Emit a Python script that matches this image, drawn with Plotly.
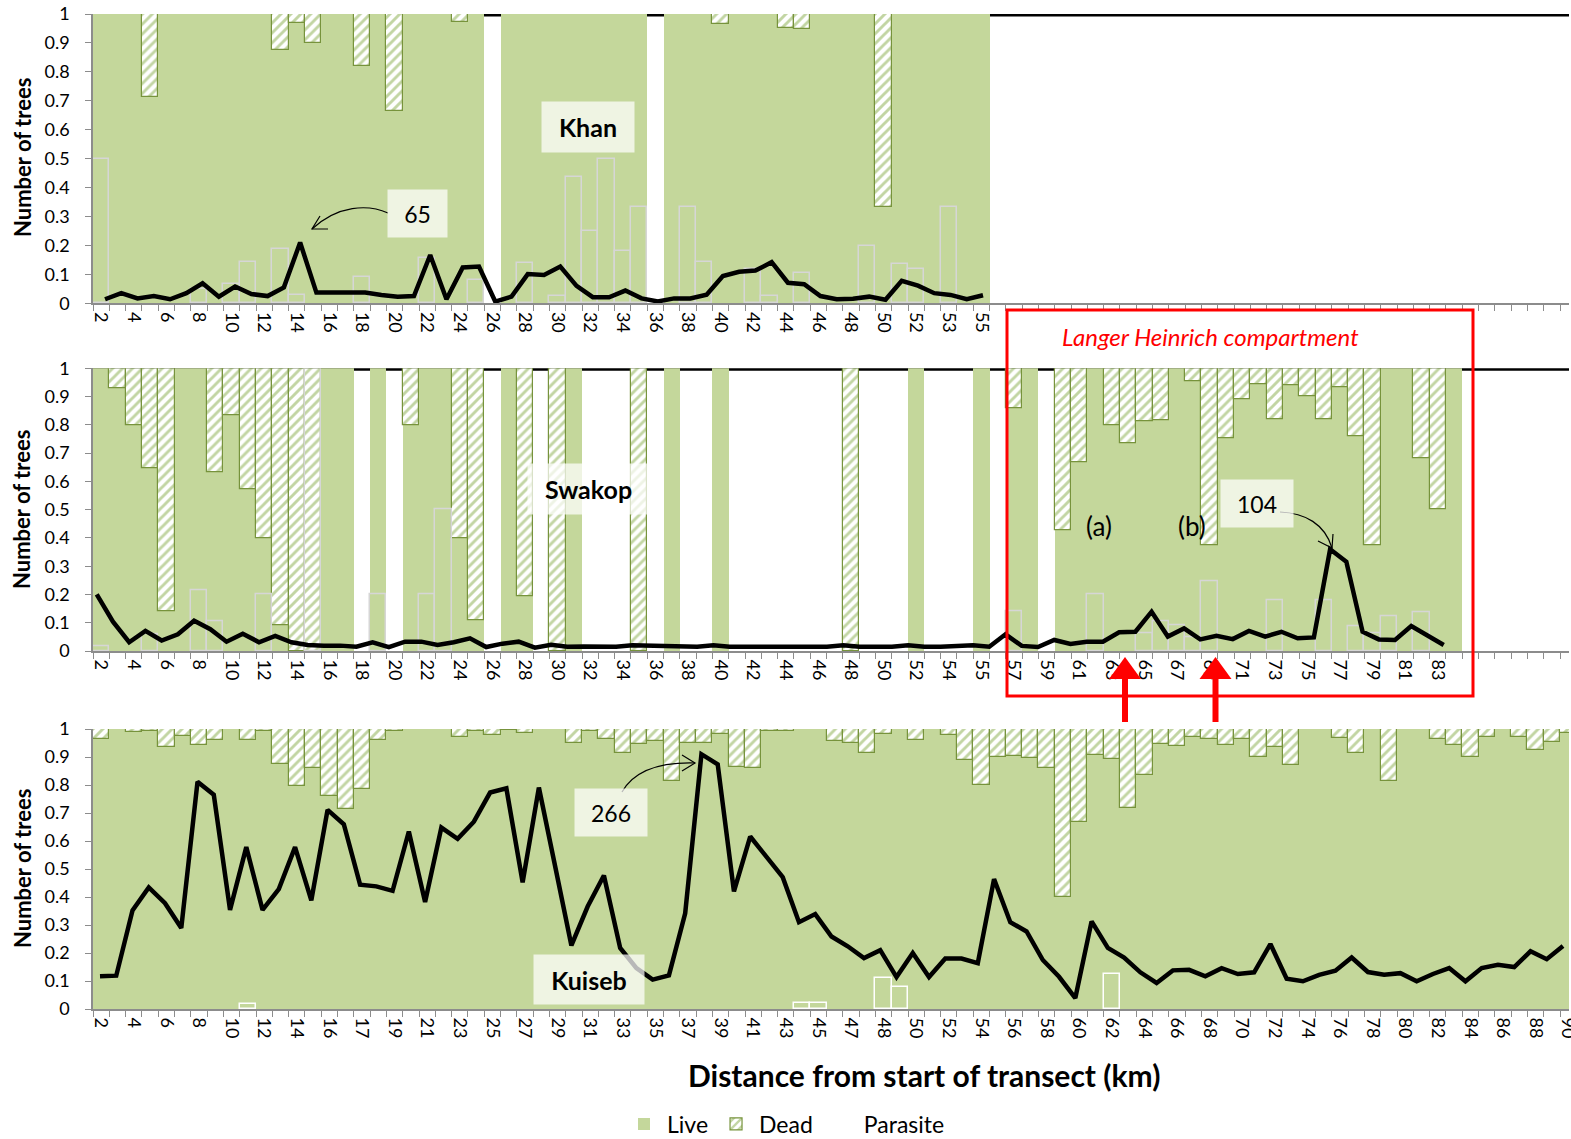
import plotly.graph_objects as go

# ---------------- data ----------------
# km labels per category (the odd "extra" category only sits under a hidden label)
khan_km = ("2 3 4 5 6 7 8 9 10 11 12 13 14 15 16 17 18 19 20 21 22 23 24 25 26 27 28 29 30 31 "
           "32 33 34 35 36 37 38 39 40 41 42 43 44 45 46 47 48 49 50 51 52 52 53 54 55").split()
swakop_km = ("2 3 4 5 6 7 8 9 10 11 12 13 14 15 16 17 18 19 20 21 22 23 24 25 26 27 28 29 30 31 "
             "32 33 34 35 36 37 38 39 40 41 42 43 44 45 46 47 48 49 50 51 52 53 54 54 55 56 57 58 "
             "59 60 61 62 63 64 65 66 67 68 69 70 71 72 73 74 75 76 77 78 79 80 81 82 83 84").split()
kuiseb_km = ("2 3 4 5 6 7 8 9 10 11 12 13 14 15 16 16 17 18 19 20 21 22 23 24 25 26 27 28 29 30 31 "
             "32 33 34 35 36 37 38 39 40 41 42 43 44 45 46 47 47 48 49 50 51 52 53 54 55 56 57 58 59 "
             "60 61 62 63 64 65 66 67 68 69 70 71 72 73 74 75 76 77 78 79 80 81 82 83 84 85 86 87 88 89 90").split()

# Khan
khan_live = [1, 1, 1, 0.714, 1, 1, 1, 1, 1, 1,
             1, 0.876, 0.968, 0.9, 1, 1, 0.82, 1, 0.666, 1,
             1, 1, 0.971, 1, 0, 1, 1, 1, 1, 1,
             1, 1, 1, 1, 0, 1, 1, 1, 0.964, 1,
             1, 1, 0.95, 0.947, 1, 1, 1, 1, 0.332, 1,
             1, 1, 1, 1, 1]
khan_dead = [0, 0, 0, 0.286, 0, 0, 0, 0, 0, 0,
             0, 0.124, 0.032, 0.1, 0, 0, 0.18, 0, 0.334, 0,
             0, 0, 0.029, 0, 0, 0, 0, 0, 0, 0,
             0, 0, 0, 0, 0, 0, 0, 0, 0.036, 0,
             0, 0, 0.05, 0.053, 0, 0, 0, 0, 0.668, 0,
             0, 0, 0, 0, 0]
khan_parasite = [0.5, 0, 0, 0, 0, 0, 0.05, 0, 0.066, 0.142,
                 0, 0.188, 0.03, 0, 0, 0, 0.09, 0, 0, 0,
                 0.158, 0, 0, 0.08, 0, 0, 0.138, 0, 0.025, 0.435,
                 0.25, 0.5, 0.18, 0.332, 0, 0, 0.332, 0.142, 0, 0,
                 0.12, 0.025, 0, 0.104, 0, 0, 0, 0.198, 0, 0.135,
                 0.118, 0, 0.332, 0, 0]
khan_trees = [0.014, 0.035, 0.017, 0.025, 0.014, 0.035, 0.069, 0.023, 0.058, 0.032,
              0.025, 0.055, 0.21, 0.037, 0.037, 0.037, 0.037, 0.029, 0.023, 0.025,
              0.167, 0.014, 0.124, 0.127, 0.006, 0.023, 0.101, 0.098, 0.127, 0.06,
              0.021, 0.021, 0.044, 0.017, 0.006, 0.017, 0.017, 0.03, 0.094, 0.109,
              0.113, 0.142, 0.071, 0.066, 0.025, 0.014, 0.016, 0.023, 0.012, 0.078,
              0.061, 0.035, 0.029, 0.014, 0.028]

# Swakop
swakop_live = [1, 0.929, 0.8, 0.646, 0.142, 1, 1, 0.632, 0.835, 0.572,
               0.4, 0.09, 0, 0, 1, 1, 0, 1, 0, 0.8,
               1, 1, 0.4, 0.11, 0, 1, 0.193, 0, 0, 1,
               0, 0, 0, 0, 0, 1, 0, 0, 1, 0,
               0, 0, 0, 0, 0, 0, 0, 0, 0, 0,
               1, 0, 0, 0, 1, 0, 0.858, 1, 0, 0.428,
               0.667, 1, 0.8, 0.735, 0.814, 0.817, 1, 0.953, 0.375, 0.752,
               0.892, 0.943, 0.821, 0.941, 0.902, 0.821, 0.933, 0.761, 0.375, 1,
               1, 0.682, 0.5, 1]
swakop_dead = [0, 0.071, 0.2, 0.354, 0.858, 0, 0, 0.368, 0.165, 0.428,
               0.6, 0.91, 1, 1, 0, 0, 0, 0, 0, 0.2,
               0, 0, 0.6, 0.89, 0, 0, 0.807, 0, 1, 0,
               0, 0, 0, 1, 0, 0, 0, 0, 0, 0,
               0, 0, 0, 0, 0, 0, 1, 0, 0, 0,
               0, 0, 0, 0, 0, 0, 0.142, 0, 0, 0.572,
               0.333, 0, 0.2, 0.265, 0.186, 0.183, 0, 0.047, 0.625, 0.248,
               0.108, 0.057, 0.179, 0.059, 0.098, 0.179, 0.067, 0.239, 0.625, 0,
               0, 0.318, 0.5, 0]
swakop_parasite = [0.018, 0, 0, 0.06, 0, 0, 0.213, 0.106, 0, 0,
                   0.2, 0, 0, 1, 0, 0, 0, 0.2, 0, 0,
                   0.2, 0.5, 0, 0, 0, 0, 0, 0, 0, 0,
                   0, 0, 0, 0, 0, 0, 0, 0, 0, 0,
                   0, 0, 0, 0, 0, 0, 0, 0, 0, 0,
                   0, 0, 0, 0, 0, 0, 0.142, 0, 0, 0,
                   0, 0.2, 0, 0, 0.0625, 0.104, 0.09, 0.047, 0.248, 0,
                   0, 0, 0.18, 0, 0, 0.18, 0, 0.086, 0.0625, 0.121,
                   0, 0.137, 0, 0]
swakop_trees = [0.2, 0.104, 0.031, 0.071, 0.037, 0.059, 0.107, 0.077, 0.033, 0.061,
                0.031, 0.053, 0.031, 0.021, 0.019, 0.019, 0.015, 0.031, 0.014, 0.033,
                0.033, 0.021, 0.031, 0.045, 0.014, 0.026, 0.033, 0.012, 0.022, 0.015,
                0.016, 0.015, 0.015, 0.02, 0.018, 0.02, 0.015, 0.015, 0.02, 0.015,
                0.015, 0.015, 0.015, 0.015, 0.015, 0.015, 0.02, 0.015, 0.015, 0.015,
                0.02, 0.015, 0.015, 0.016, 0.02, 0.015, 0.059, 0.018, 0.014, 0.039,
                0.025, 0.033, 0.033, 0.066, 0.068, 0.139, 0.051, 0.08, 0.041, 0.054,
                0.042, 0.071, 0.051, 0.068, 0.045, 0.048, 0.36, 0.316, 0.068, 0.041,
                0.039, 0.088, 0.054, 0.021]

# Kuiseb
kuiseb_live = [0.964, 1, 0.99, 0.993, 0.935, 0.976, 0.943, 0.96, 1, 0.96,
               0.994, 0.875, 0.797, 0.862, 0.759, 0.716, 0.785, 0.96, 0.993, 1,
               1, 1, 0.97, 0.993, 0.979, 0.996, 0.984, 1, 1, 0.949,
               0.992, 0.964, 0.913, 0.945, 0.957, 0.816, 0.949, 0.949, 0.982, 0.866,
               0.86, 0.994, 0.994, 1, 1, 0.957, 0.949, 0.913, 0.982, 1,
               0.96, 1, 0.979, 0.889, 0.8, 0.901, 0.905, 0.895, 0.862, 0.4,
               0.667, 0.907, 0.893, 0.717, 0.834, 0.945, 0.939, 0.97, 0.964, 0.943,
               0.964, 0.901, 0.935, 0.872, 1, 1, 0.969, 0.913, 1, 0.816,
               1, 1, 0.964, 0.943, 0.901, 0.97, 1, 0.97, 0.925, 0.952,
               0.985]
kuiseb_dead = [0.036, 0, 0.01, 0.007, 0.065, 0.024, 0.057, 0.04, 0, 0.04,
               0.006, 0.125, 0.203, 0.138, 0.241, 0.284, 0.215, 0.04, 0.007, 0,
               0, 0, 0.03, 0.007, 0.021, 0.004, 0.016, 0, 0, 0.051,
               0.008, 0.036, 0.087, 0.055, 0.043, 0.184, 0.051, 0.051, 0.018, 0.134,
               0.14, 0.006, 0.006, 0, 0, 0.043, 0.051, 0.087, 0.018, 0,
               0.04, 0, 0.021, 0.111, 0.2, 0.099, 0.095, 0.105, 0.138, 0.6,
               0.333, 0.093, 0.107, 0.283, 0.166, 0.055, 0.061, 0.03, 0.036, 0.057,
               0.036, 0.099, 0.065, 0.128, 0, 0, 0.031, 0.087, 0, 0.184,
               0, 0, 0.036, 0.057, 0.099, 0.03, 0, 0.03, 0.075, 0.048,
               0.015]
kuiseb_parasite = [0, 0, 0, 0, 0, 0, 0, 0, 0, 0.018,
                   0, 0, 0, 0, 0, 0, 0, 0, 0, 0,
                   0, 0, 0, 0, 0, 0, 0, 0, 0, 0,
                   0, 0, 0, 0, 0, 0, 0, 0, 0, 0,
                   0, 0, 0, 0.021, 0.021, 0, 0, 0, 0.11, 0.077,
                   0, 0, 0, 0, 0, 0, 0, 0, 0, 0,
                   0, 0, 0.125, 0, 0, 0, 0, 0, 0, 0,
                   0, 0, 0, 0, 0, 0, 0, 0, 0, 0,
                   0, 0, 0, 0, 0, 0, 0, 0, 0, 0,
                   0]
kuiseb_trees = [0.117, 0.119, 0.352, 0.434, 0.378, 0.289, 0.812, 0.765, 0.354, 0.578,
                0.354, 0.428, 0.578, 0.388, 0.711, 0.66, 0.444, 0.438, 0.422, 0.634,
                0.382, 0.648, 0.608, 0.669, 0.773, 0.788, 0.452, 0.791, 0.51, 0.227,
                0.366, 0.477, 0.218, 0.146, 0.105, 0.12, 0.342, 0.91, 0.874, 0.42,
                0.616, 0.543, 0.471, 0.31, 0.339, 0.259, 0.224, 0.182, 0.21, 0.114,
                0.2, 0.114, 0.18, 0.18, 0.164, 0.464, 0.31, 0.277, 0.175, 0.115,
                0.039, 0.313, 0.218, 0.184, 0.131, 0.093, 0.138, 0.14, 0.117, 0.146,
                0.125, 0.131, 0.232, 0.108, 0.099, 0.122, 0.137, 0.184, 0.132, 0.122,
                0.128, 0.099, 0.125, 0.146, 0.099, 0.146, 0.158, 0.15, 0.206, 0.178,
                0.225]

y_ticks = [0, 0.1, 0.2, 0.3, 0.4, 0.5, 0.6, 0.7, 0.8, 0.9, 1]
y_ticktext = ["0", "0.1", "0.2", "0.3", "0.4", "0.5", "0.6", "0.7", "0.8", "0.9", "1"]

# ---------------- layout helpers ----------------
W, H = 1571, 1139
ML, MR, MT, MB = 93, 2, 14, 130
GREEN = "#c4d79b"
FONT = "Lato"


def fx(p):
    return (p - ML) / (W - ML - MR)


def fy(p):
    return (H - MB - p) / (H - MT - MB)


def nz(vals):
    return [v if v else None for v in vals]


panels = [
    # name, labels, live, dead, parasite, trees, parasite outline, y domain, line axis range
    ("Khan", khan_km, khan_live, khan_dead, khan_parasite, khan_trees, "#d6d6d6",
     [fy(303.3), fy(14)], [-0.74, 90.04]),
    ("Swakop", swakop_km, swakop_live, swakop_dead, swakop_parasite, swakop_trees, "#d6d6d6",
     [fy(651), fy(368.3)], [-0.23, 90.72]),
    ("Kuiseb", kuiseb_km, kuiseb_live, kuiseb_dead, kuiseb_parasite, kuiseb_trees, "white",
     [fy(1009), fy(729)], [-0.43, 90.37]),
]

fig = go.Figure()
layout_axes = {}
shapes = []

for i, (name, km, live, dead, para, trees, pcol, ydom, lrange) in enumerate(panels):
    n = i + 1
    xa = "x" if n == 1 else f"x{n}"
    ya = "y" if n == 1 else f"y{n}"
    xl = f"x{n + 3}"
    idx = list(range(len(km)))
    last = (n == 3)

    fig.add_trace(go.Bar(x=idx, y=nz(live), width=1, name="Live",
                         marker=dict(color=GREEN, line=dict(width=0)),
                         xaxis=xa, yaxis=ya, showlegend=last, legendrank=1))
    fig.add_trace(go.Bar(x=idx, y=nz(dead), base=live, width=1, name="Dead",
                         marker=dict(color="white", line=dict(color="#77933c", width=1.2),
                                     pattern=dict(shape="/", fgcolor="#86ab48", bgcolor="white",
                                                  size=7, solidity=0.42)),
                         xaxis=xa, yaxis=ya, showlegend=last, legendrank=2))
    fig.add_trace(go.Bar(x=idx, y=nz(para), width=1, name="Parasite",
                         marker=dict(color="rgba(0,0,0,0)", line=dict(color=pcol, width=1.5)),
                         xaxis=xa, yaxis=ya, showlegend=last, legendrank=3))
    fig.add_trace(go.Scatter(x=idx, y=trees, mode="lines", line=dict(color="black", width=4.5),
                             xaxis=xl, yaxis=ya, showlegend=False, hoverinfo="skip"))

    tv = list(range(0, len(km), 2))
    layout_axes["xaxis" if n == 1 else f"xaxis{n}"] = dict(
        domain=[0, 1], anchor=ya, range=[-0.5, 90.05], automargin=False,
        tickmode="array", tickvals=tv, ticktext=[km[j] for j in tv], tickangle=90,
        ticks="", showline=True, linecolor="#8c8c8c", linewidth=2,
        showgrid=False, zeroline=False, tickfont=dict(size=18), ticklabelstandoff=3,
        ticklabeloverflow="allow",
        minor=dict(tickmode="linear", tick0=-0.5, dtick=1, ticks="outside",
                   ticklen=6, tickcolor="#8c8c8c", tickwidth=1, showgrid=False))
    layout_axes["yaxis" if n == 1 else f"yaxis{n}"] = dict(
        domain=ydom, anchor=xa, range=[0, 1], automargin=False, tickmode="array",
        tickvals=y_ticks, ticktext=y_ticktext, ticks="outside", ticklen=6,
        tickcolor="#8c8c8c", showline=True, linecolor="#8c8c8c", linewidth=1.5,
        showgrid=False, zeroline=False, tickfont=dict(size=18), ticklabelstandoff=12)
    layout_axes[f"xaxis{n + 3}"] = dict(overlaying=xa, anchor=ya, range=lrange, visible=False)

    shapes.append(dict(type="line", xref="paper", yref=ya, x0=0, x1=1, y0=1, y1=1,
                       line=dict(color="black", width=5), layer="below"))

fig.update_layout(**layout_axes)

# ---------------- decorations ----------------
thin = dict(color="black", width=1.2)


def path(pts, close=False):
    s = "M " + " L ".join(f"{fx(a)},{fy(b)}" for a, b in pts)
    return s + (" Z" if close else "")


def curve(p0, c1, c2, p1):
    return (f"M {fx(p0[0])},{fy(p0[1])} C {fx(c1[0])},{fy(c1[1])} "
            f"{fx(c2[0])},{fy(c2[1])} {fx(p1[0])},{fy(p1[1])}")


# callout curves with open arrowheads
shapes += [
    dict(type="path", xref="paper", yref="paper", line=thin,
         path=curve((388, 213), (368, 204), (338, 205), (312, 229))),
    dict(type="path", xref="paper", yref="paper", line=thin,
         path=path([(328, 229), (312, 229), (320, 216)])),
    dict(type="path", xref="paper", yref="paper", line=thin,
         path=curve((1280, 512), (1305, 513), (1325, 524), (1332, 548))),
    dict(type="path", xref="paper", yref="paper", line=thin,
         path=path([(1318, 541), (1332, 548), (1333, 534)])),
    dict(type="path", xref="paper", yref="paper", line=thin,
         path=curve((622, 792), (634, 771), (660, 762), (695, 763))),
    dict(type="path", xref="paper", yref="paper", line=thin,
         path=path([(682, 755), (695, 763), (682, 771)])),
]

# Langer Heinrich box and red arrows
shapes.append(dict(type="rect", xref="paper", yref="paper", x0=fx(1007), x1=fx(1473),
                   y0=fy(696), y1=fy(310), line=dict(color="red", width=3)))
for cx in (1125, 1215.5):
    shapes.append(dict(type="rect", xref="paper", yref="paper", x0=fx(cx - 3), x1=fx(cx + 3),
                       y0=fy(722), y1=fy(676), fillcolor="red", line=dict(width=0)))
    shapes.append(dict(type="path", xref="paper", yref="paper", fillcolor="red",
                       line=dict(width=0),
                       path=path([(cx - 16, 679), (cx + 16, 679), (cx, 657)], close=True)))

box_bg = "rgba(255,255,255,0.72)"
annotations = []


def label(text, x, y, size, bold=False, w=None, h=None, bg=None, color="black",
          italic=False, angle=0):
    t = f"<b>{text}</b>" if bold else text
    if italic:
        t = f"<i>{t}</i>"
    a = dict(text=t, x=fx(x), y=fy(y), xref="paper", yref="paper", showarrow=False,
             xanchor="center", yanchor="middle", textangle=angle,
             font=dict(family=FONT, size=size, color=color))
    if w:
        a.update(width=w, height=h, bgcolor=bg, borderpad=0)
    annotations.append(a)


for yc in (158, 510, 869):
    label("Number of trees", 22, yc, 22, bold=True, angle=-90)

label("Khan", 588, 127, 25, bold=True, w=92, h=50, bg=box_bg)
label("Swakop", 588, 489, 25, bold=True, w=121, h=50, bg=box_bg)
label("Kuiseb", 589, 979, 25, bold=True, w=110, h=49, bg=box_bg)
label("65", 417.5, 213.5, 23, w=59, h=47, bg=box_bg)
label("104", 1257, 503, 23, w=72, h=47, bg=box_bg)
label("266", 611, 812.5, 23, w=72, h=47, bg=box_bg)
label("(a)", 1099, 526, 26)
label("(b)", 1192, 526, 26)
label("Langer Heinrich compartment", 1210, 336, 24, color="red", italic=True)
label("Distance from start of transect (km)", 924, 1075, 30, bold=True)

fig.update_layout(
    width=W, height=H, margin=dict(l=ML, r=MR, t=MT, b=MB, autoexpand=False),
    barmode="overlay", bargap=0,
    plot_bgcolor="white", paper_bgcolor="white",
    font=dict(family=FONT, size=17, color="black"),
    shapes=shapes, annotations=annotations,
    legend=dict(orientation="h", x=fx(621), xanchor="left", y=fy(1124), yanchor="middle",
                font=dict(family=FONT, size=23), bgcolor="rgba(0,0,0,0)", traceorder="normal",
                itemwidth=36),
)

# the page's default body margin would push the whole figure 8px right/down
fig.write_html("out.html", config={"displayModeBar": False},
               post_script="document.body.style.margin='0';")
